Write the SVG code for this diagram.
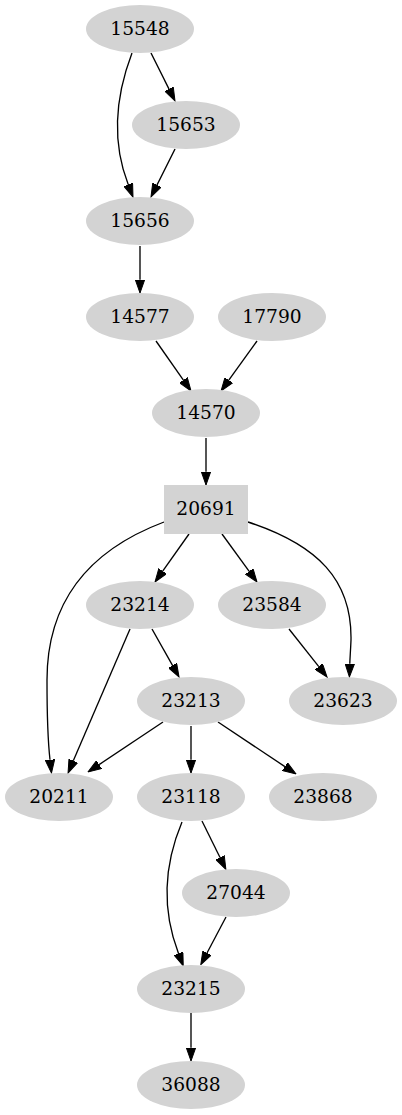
<svg xmlns="http://www.w3.org/2000/svg" width="402" height="1115" viewBox="0 0 402 1115">
<style>
.n ellipse, .n rect { fill: #d3d3d3; stroke: none; }
.n text { font-family: "DejaVu Serif", "Liberation Serif", serif; font-size: 18.67px; fill: #000; text-anchor: middle; }
.e path { fill: none; stroke: #000; stroke-width: 1.33; marker-end: url(#ah); }
</style>
<defs>
<marker id="ah" viewBox="0 0 14 10" refX="0" refY="5" markerWidth="14" markerHeight="10" markerUnits="userSpaceOnUse" orient="auto">
<path d="M0,0.3 L13.3,5 L0,9.7 z" fill="#000" stroke="#000" stroke-width="1"/>
</marker>
</defs>
<rect width="402" height="1115" fill="#fff"/>
<g id="edges" class="e">
<path d="M132,53 C116,95 111,140 128.2,184.6"/>
<path d="M151,53 L169.05,89.1"/>
<path d="M175,149 L156.95,185.1"/>
<path d="M140,246 L140,279.7"/>
<path d="M156,341 L183.4,380.1"/>
<path d="M257,341 L228.8,380.2"/>
<path d="M206,438 L206,471.7"/>
<path d="M164,522 C95,548 47,595 47,680 C47,720 48,742 50,759.8"/>
<path d="M189,534 L162.7,571.1"/>
<path d="M222,534 L249.2,571.3"/>
<path d="M248,522 C318,545 352,580 351,640 C350.5,652 350,657 349.8,663.7"/>
<path d="M130,629 L73.3,760.8"/>
<path d="M152,629 L172.5,665.4"/>
<path d="M289,629 L318.8,666.6"/>
<path d="M163,722 L99.1,764.6"/>
<path d="M191,726 L191,759.7"/>
<path d="M218,722 L284.9,766.6"/>
<path d="M182,822 C166,860 160,905 178.5,953.5"/>
<path d="M202,821 L220,857.5"/>
<path d="M226,917 L207,953"/>
<path d="M191,1013 L191,1047.7"/>
</g>
<g id="n15548" class="n"><ellipse cx="140" cy="29" rx="54" ry="24"/><text x="140" y="34.5">15548</text></g>
<g id="n15653" class="n"><ellipse cx="186" cy="125" rx="54" ry="24"/><text x="186" y="130.5">15653</text></g>
<g id="n15656" class="n"><ellipse cx="140" cy="221" rx="54" ry="24"/><text x="140" y="226.5">15656</text></g>
<g id="n14577" class="n"><ellipse cx="140" cy="317" rx="54" ry="24"/><text x="140" y="322.5">14577</text></g>
<g id="n17790" class="n"><ellipse cx="272" cy="317" rx="54" ry="24"/><text x="272" y="322.5">17790</text></g>
<g id="n14570" class="n"><ellipse cx="206" cy="413" rx="54" ry="24"/><text x="206" y="418.5">14570</text></g>
<g id="n20691" class="n"><rect x="164" y="485" width="84" height="49"/><text x="206" y="515">20691</text></g>
<g id="n23214" class="n"><ellipse cx="140" cy="605" rx="54" ry="24"/><text x="140" y="610.5">23214</text></g>
<g id="n23584" class="n"><ellipse cx="272" cy="605" rx="54" ry="24"/><text x="272" y="610.5">23584</text></g>
<g id="n23213" class="n"><ellipse cx="191" cy="701" rx="54" ry="24"/><text x="191" y="706.5">23213</text></g>
<g id="n23623" class="n"><ellipse cx="343" cy="701" rx="54" ry="24"/><text x="343" y="706.5">23623</text></g>
<g id="n20211" class="n"><ellipse cx="59" cy="797" rx="54" ry="24"/><text x="59" y="802.5">20211</text></g>
<g id="n23118" class="n"><ellipse cx="191" cy="797" rx="54" ry="24"/><text x="191" y="802.5">23118</text></g>
<g id="n23868" class="n"><ellipse cx="323" cy="797" rx="54" ry="24"/><text x="323" y="802.5">23868</text></g>
<g id="n27044" class="n"><ellipse cx="236" cy="893" rx="54" ry="24"/><text x="236" y="898.5">27044</text></g>
<g id="n23215" class="n"><ellipse cx="191" cy="989" rx="54" ry="24"/><text x="191" y="994.5">23215</text></g>
<g id="n36088" class="n"><ellipse cx="191" cy="1085" rx="54" ry="24"/><text x="191" y="1090.5">36088</text></g>
</svg>
